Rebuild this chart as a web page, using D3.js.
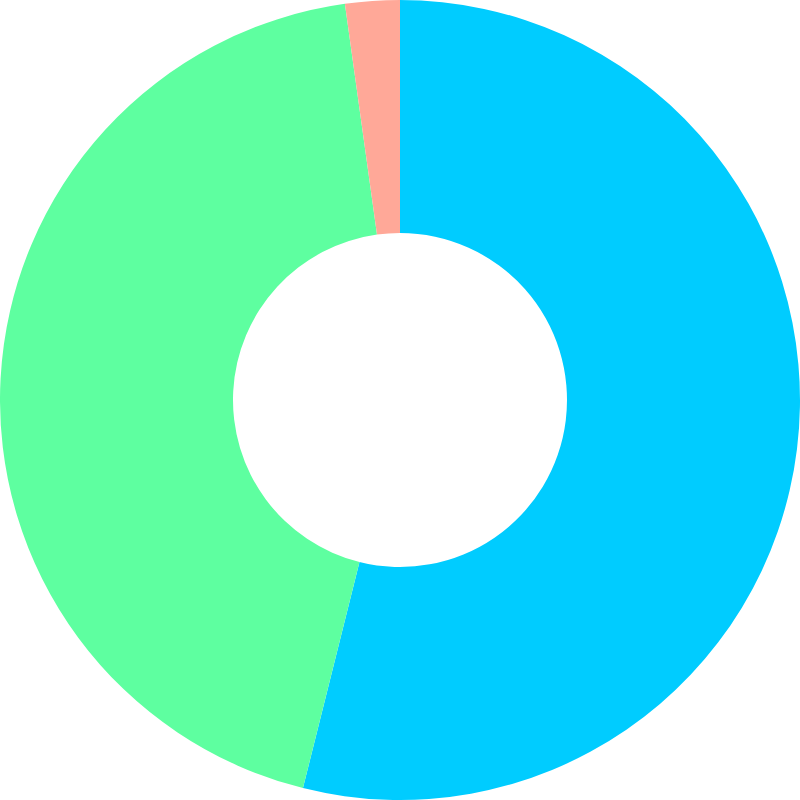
<!DOCTYPE html>
<html>
<head>
<meta charset="utf-8">
<script src="https://cdn.jsdelivr.net/npm/d3@7"></script>
<style>
  html, body { margin: 0; padding: 0; background: #fff; }
</style>
</head>
<body>
<div id="chart"></div>
<script>
// data
const categories = ["A", "B", "C"];
const values = [53.9, 43.9, 2.2];
const colors = ["#00ccff", "#5effa0", "#ffa898"];

const width = 800, height = 800;
const outerR = 400, innerR = 167;

const svg = d3.select("#chart")
  .append("svg")
  .attr("width", width)
  .attr("height", height);

const g = svg.append("g")
  .attr("transform", `translate(${width / 2}, ${height / 2})`);

const pie = d3.pie()
  .sort(null)
  .value(d => d.value);

const arc = d3.arc()
  .innerRadius(innerR)
  .outerRadius(outerR);

const data = categories.map((c, i) => ({ name: c, value: values[i] }));
const color = d3.scaleOrdinal().domain(categories).range(colors);

g.selectAll("path")
  .data(pie(data))
  .join("path")
  .attr("d", arc)
  .attr("fill", d => color(d.data.name));
</script>
</body>
</html>
